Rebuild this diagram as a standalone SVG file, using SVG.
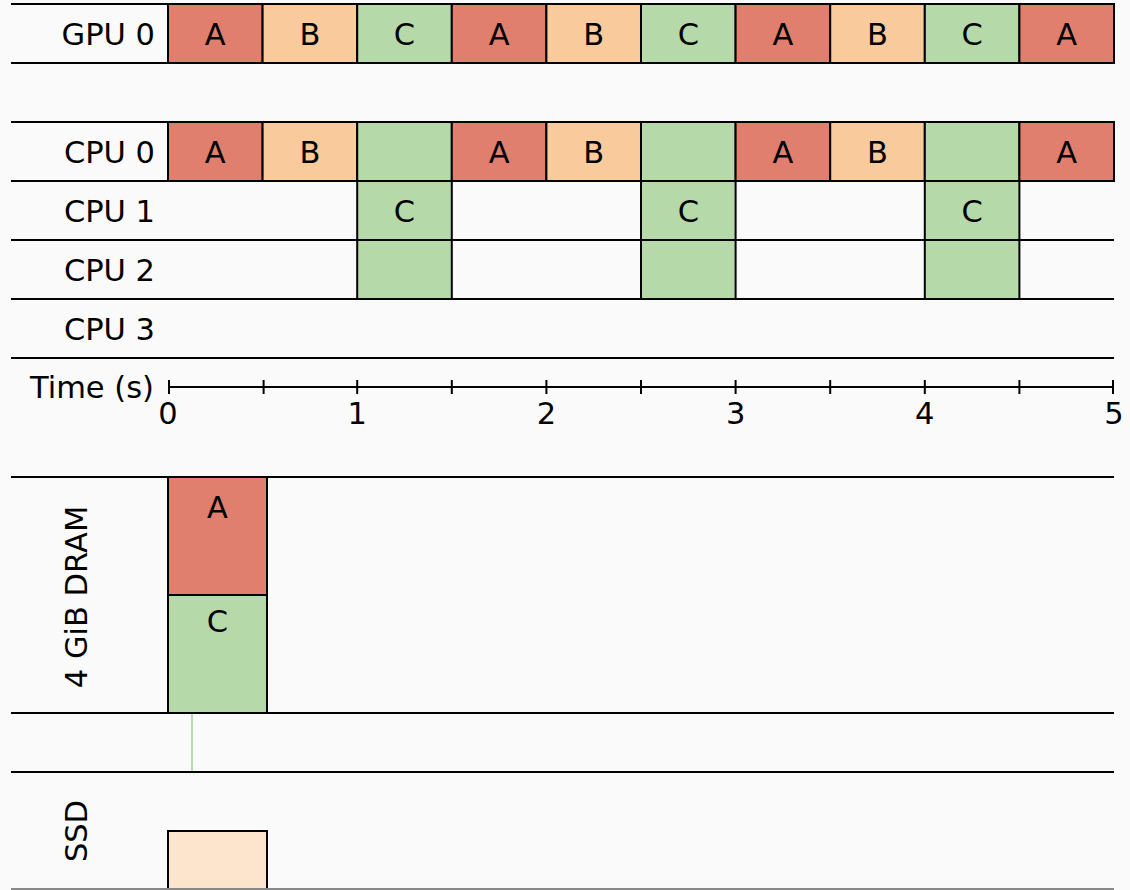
<svg xmlns="http://www.w3.org/2000/svg" width="1130" height="890" viewBox="0 0 1130 890">
<style>
text{font-family:"DejaVu Sans","Liberation Sans",sans-serif;font-size:30.5px;fill:#000}
.lbl{text-anchor:end}
.c{text-anchor:middle}
.rule{stroke:#000;stroke-width:2;fill:none}
.cell{stroke:#000;stroke-width:2}
.A{fill:#e07f6d}
.B{fill:#f9ca9c}
.C{fill:#b6d9a9}
.S{fill:#fde5cd}
</style>
<rect width="1130" height="890" fill="#fafafa"/>
<g id="gpu0">
<line class="rule" x1="11" y1="4" x2="1114" y2="4"/>
<line class="rule" x1="11" y1="63" x2="1114" y2="63"/>
<text class="lbl" x="155" y="45">GPU 0</text>
<rect class="cell A" x="168" y="4" width="94.6" height="59"/><text class="c" x="215.3" y="45">A</text>
<rect class="cell B" x="262.6" y="4" width="94.6" height="59"/><text class="c" x="309.9" y="45">B</text>
<rect class="cell C" x="357.2" y="4" width="94.6" height="59"/><text class="c" x="404.5" y="45">C</text>
<rect class="cell A" x="451.8" y="4" width="94.6" height="59"/><text class="c" x="499.1" y="45">A</text>
<rect class="cell B" x="546.4" y="4" width="94.6" height="59"/><text class="c" x="593.7" y="45">B</text>
<rect class="cell C" x="641" y="4" width="94.6" height="59"/><text class="c" x="688.3" y="45">C</text>
<rect class="cell A" x="735.6" y="4" width="94.6" height="59"/><text class="c" x="782.9" y="45">A</text>
<rect class="cell B" x="830.2" y="4" width="94.6" height="59"/><text class="c" x="877.5" y="45">B</text>
<rect class="cell C" x="924.8" y="4" width="94.6" height="59"/><text class="c" x="972.1" y="45">C</text>
<rect class="cell A" x="1019.4" y="4" width="94.6" height="59"/><text class="c" x="1066.7" y="45">A</text>
</g>
<g id="cpu0">
<line class="rule" x1="11" y1="122" x2="1114" y2="122"/>
<line class="rule" x1="11" y1="181" x2="1114" y2="181"/>
<text class="lbl" x="155" y="163">CPU 0</text>
<rect class="cell A" x="168" y="122" width="94.6" height="59"/><text class="c" x="215.3" y="163">A</text>
<rect class="cell B" x="262.6" y="122" width="94.6" height="59"/><text class="c" x="309.9" y="163">B</text>
<rect class="cell C" x="357.2" y="122" width="94.6" height="59"/>
<rect class="cell A" x="451.8" y="122" width="94.6" height="59"/><text class="c" x="499.1" y="163">A</text>
<rect class="cell B" x="546.4" y="122" width="94.6" height="59"/><text class="c" x="593.7" y="163">B</text>
<rect class="cell C" x="641" y="122" width="94.6" height="59"/>
<rect class="cell A" x="735.6" y="122" width="94.6" height="59"/><text class="c" x="782.9" y="163">A</text>
<rect class="cell B" x="830.2" y="122" width="94.6" height="59"/><text class="c" x="877.5" y="163">B</text>
<rect class="cell C" x="924.8" y="122" width="94.6" height="59"/>
<rect class="cell A" x="1019.4" y="122" width="94.6" height="59"/><text class="c" x="1066.7" y="163">A</text>
</g>
<g id="cpu1">
<line class="rule" x1="11" y1="240" x2="1114" y2="240"/>
<text class="lbl" x="155" y="222">CPU 1</text>
<rect class="cell C" x="357.2" y="181" width="94.6" height="59"/><text class="c" x="404.5" y="222">C</text>
<rect class="cell C" x="641" y="181" width="94.6" height="59"/><text class="c" x="688.3" y="222">C</text>
<rect class="cell C" x="924.8" y="181" width="94.6" height="59"/><text class="c" x="972.1" y="222">C</text>
</g>
<g id="cpu2">
<line class="rule" x1="11" y1="299" x2="1114" y2="299"/>
<text class="lbl" x="155" y="281">CPU 2</text>
<rect class="cell C" x="357.2" y="240" width="94.6" height="59"/>
<rect class="cell C" x="641" y="240" width="94.6" height="59"/>
<rect class="cell C" x="924.8" y="240" width="94.6" height="59"/>
</g>
<g id="cpu3">
<line class="rule" x1="11" y1="358" x2="1114" y2="358"/>
<text class="lbl" x="155" y="340">CPU 3</text>
</g>
<g id="axis">
<text class="lbl" x="154" y="398">Time (s)</text>
<line class="rule" x1="168" y1="387" x2="1114" y2="387"/>
<g class="rule">
<line x1="169" y1="380" x2="169" y2="394"/>
<line x1="263.6" y1="380" x2="263.6" y2="394"/>
<line x1="357.2" y1="380" x2="357.2" y2="394"/>
<line x1="451.8" y1="380" x2="451.8" y2="394"/>
<line x1="546.4" y1="380" x2="546.4" y2="394"/>
<line x1="641" y1="380" x2="641" y2="394"/>
<line x1="735.6" y1="380" x2="735.6" y2="394"/>
<line x1="830.2" y1="380" x2="830.2" y2="394"/>
<line x1="924.8" y1="380" x2="924.8" y2="394"/>
<line x1="1019.4" y1="380" x2="1019.4" y2="394"/>
<line x1="1113" y1="380" x2="1113" y2="394"/>
</g>
<text class="c" x="168" y="424">0</text>
<text class="c" x="357.2" y="424">1</text>
<text class="c" x="546.4" y="424">2</text>
<text class="c" x="735.6" y="424">3</text>
<text class="c" x="924.8" y="424">4</text>
<text class="c" x="1114" y="424">5</text>
</g>
<g id="dram">
<line class="rule" x1="11" y1="477" x2="1114" y2="477"/>
<line class="rule" x1="11" y1="713" x2="1114" y2="713"/>
<text class="c" transform="translate(87,597) rotate(-90)">4 GiB DRAM</text>
<rect class="cell A" x="168" y="477" width="99" height="118"/><text class="c" x="217.5" y="518">A</text>
<rect class="cell C" x="168" y="595" width="99" height="118"/><text class="c" x="217.5" y="632">C</text>
</g>
<g id="transfer">
<line class="rule" x1="11" y1="772" x2="1114" y2="772"/>
</g>
<g id="connectors">
<line x1="192" y1="714" x2="192" y2="771" stroke="#86cc76" stroke-width="1.2"/>
</g>
<g id="ssd">
<text class="c" transform="translate(87,831) rotate(-90)">SSD</text>
<rect class="cell S" x="168" y="831" width="99" height="62"/>
<line x1="11" y1="889" x2="1114" y2="889" stroke="#888" stroke-width="2"/>
</g>
</svg>
